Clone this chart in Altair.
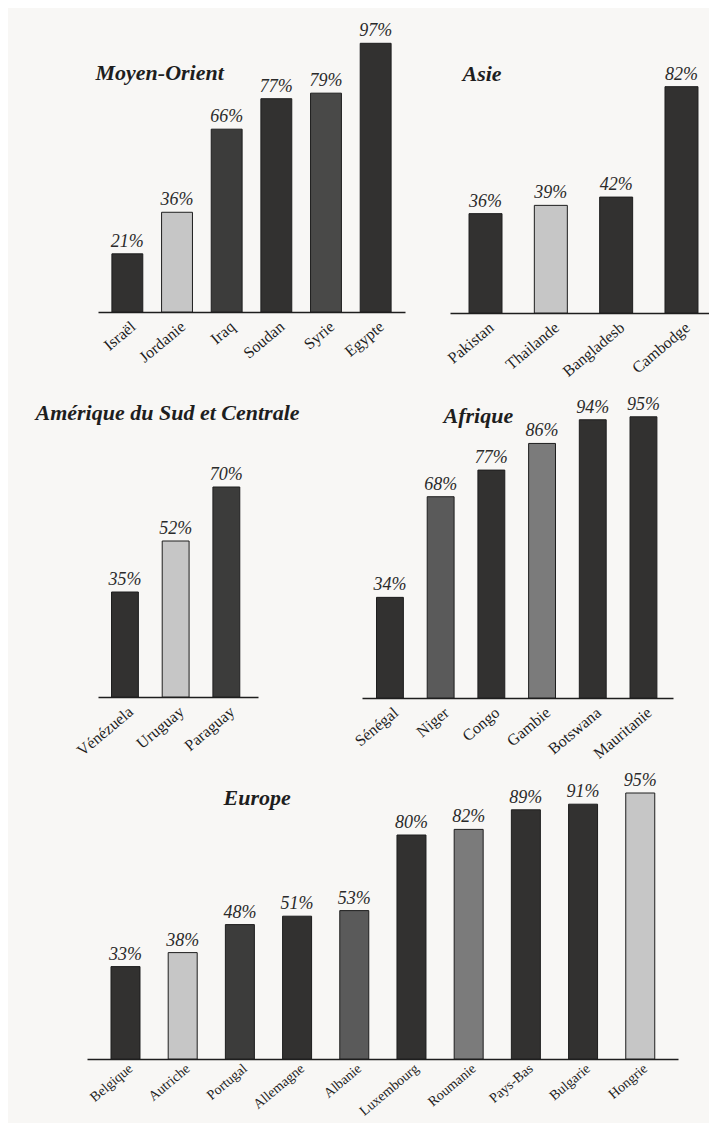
import altair as alt
import pandas as pd

# ---- data ----
mo_pays = ["Israël", "Jordanie", "Iraq", "Soudan", "Syrie", "Egypte"]
mo_vals = [21, 36, 66, 77, 79, 97]
mo_teinte = ["sombre", "clair", "sombre2", "sombre", "moyen", "sombre"]

as_pays = ["Pakistan", "Thailande", "Bangladesb", "Cambodge"]
as_vals = [36, 39, 42, 82]
as_teinte = ["sombre", "clair", "sombre", "sombre"]

am_pays = ["Vénézuela", "Uruguay", "Paraguay"]
am_vals = [35, 52, 70]
am_teinte = ["sombre", "clair", "sombre2"]

af_pays = ["Sénégal", "Niger", "Congo", "Gambie", "Botswana", "Mauritanie"]
af_vals = [34, 68, 77, 86, 94, 95]
af_teinte = ["sombre", "moyen2", "sombre", "gris", "sombre", "sombre"]

eu_pays = ["Belgique", "Autriche", "Portugal", "Allemagne", "Albanie",
           "Luxembourg", "Roumanie", "Pays-Bas", "Bulgarie", "Hongrie"]
eu_vals = [33, 38, 48, 51, 53, 80, 82, 89, 91, 95]
eu_teinte = ["sombre", "clair", "sombre2", "sombre", "moyen2",
             "sombre", "gris", "sombre", "sombre", "clair"]

teintes = ["sombre", "sombre2", "moyen", "moyen2", "gris", "clair"]
couleurs = ["#323130", "#3c3c3b", "#494948", "#5a5a5a", "#7b7b7b", "#c6c6c6"]

SERIF = "Liberation Serif"
INK = "#1e1e1e"
W, H = 701, 1115


def panel(pays, vals, teinte, titre, xr, yr, pI, pO, align, tx, ty, lfs=16, lpad=6):
    df = pd.DataFrame({
        "pays": pays,
        "valeur": vals,
        "teinte": teinte,
        "etiquette": [f"{v}%" for v in vals],
    })
    base = alt.Chart(df)
    xscale = alt.Scale(range=xr, paddingInner=pI, paddingOuter=pO, align=align)
    x_axis = alt.X(
        "pays:N", sort=pays, scale=xscale,
        axis=alt.Axis(orient="bottom", offset=yr[0] - H, title=titre,
                      titleX=tx, titleY=ty, titleAlign="left", titleBaseline="middle",
                      titleAnchor="start", titleAngle=0,
                      titleFont=SERIF, titleFontSize=22, titleFontStyle="italic",
                      titleFontWeight="bold", titleColor=INK,
                      ticks=False, labelAngle=-40, labelAlign="right",
                      labelBaseline="top", labelPadding=lpad, labelOffset=1,
                      labelFont=SERIF, labelFontSize=lfs, labelColor=INK,
                      domainColor=INK, domainWidth=1.5, labelOverlap=False, grid=False),
    )
    y = alt.Y("valeur:Q", scale=alt.Scale(domain=[0, 100], range=yr, nice=False), axis=None)
    bars = base.mark_bar(stroke=INK, strokeWidth=1).encode(
        x=x_axis, y=y,
        color=alt.Color("teinte:N", scale=alt.Scale(domain=teintes, range=couleurs), legend=None),
    )
    labels = base.mark_text(dy=-3, baseline="bottom", font=SERIF, fontSize=18,
                            fontStyle="italic", color="#2a2a2a").encode(
        x=x_axis, y=y, text="etiquette:N")
    return alt.layer(bars, labels)


p1 = panel(mo_pays, mo_vals, mo_teinte, "Moyen-Orient", [90, 397], [304, 27],
           0.378, 0.28, 0.5, 87, -240)
p2 = panel(as_pays, as_vals, as_teinte, "Asie", [442, 701], [305, 29],
           0.495, 0.23, 0.633, 454, -240)
p3 = panel(am_pays, am_vals, am_teinte, "Amérique du Sud et Centrale", [90, 250], [689, 389],
           0.47, 0.313, 0.426, 27, -285)
p4 = panel(af_pays, af_vals, af_teinte, "Afrique", [354, 665], [690, 394],
           0.47, 0.302, 0.474, 435, -283)
p5 = panel(eu_pays, eu_vals, eu_teinte, "Europe", [79, 670], [1051, 771],
           0.493, 0.413, 0.508, 215, -262, lfs=14, lpad=2)

chart = alt.layer(p1, p2, p3, p4, p5).resolve_scale(
    x="independent", y="independent"
).properties(
    width=W, height=H, padding=0, autosize=alt.AutoSizeParams(type="none"),
).configure(background="#f8f7f5").configure_view(stroke=None)

chart.save("out.html", embed_options={"renderer": "svg", "actions": False})
